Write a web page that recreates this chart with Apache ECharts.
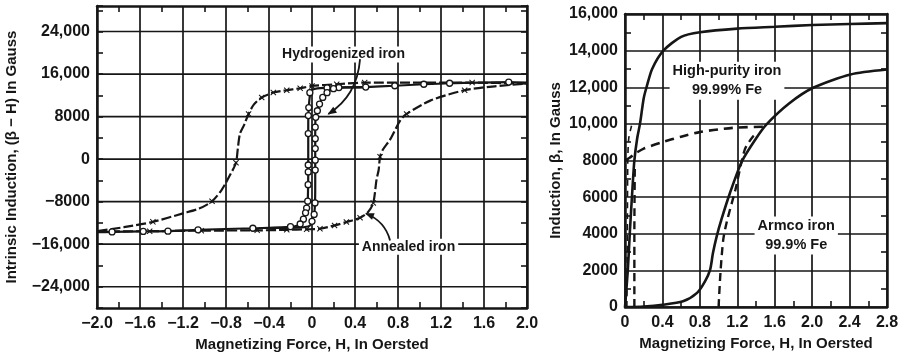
<!DOCTYPE html>
<html><head><meta charset="utf-8">
<script src="https://cdn.jsdelivr.net/npm/echarts@6/dist/echarts.min.js"></script>
<style>html,body{margin:0;padding:0;background:#fff}#c{width:906px;height:355px}</style>
</head><body><div id="c"></div>
<script>
// ---------- LEFT CHART DATA: [H (oersted), B-H (gauss)] ----------
const hydroDown = [[2.0,14400],[1.83,14500],[1.28,14270],[1.04,14080],[0.77,13800],[0.5,13550],[0.25,13450],[0.14,13400],[0.05,13300],[0.0,13000],[-0.015,12500],[-0.025,11000],[-0.03,9700],[-0.034,8200],[-0.035,4800],[-0.035,-1100],[-0.035,-2400],[-0.036,-4800],[-0.04,-7900],[-0.05,-9200],[-0.06,-10100],[-0.08,-11300],[-0.11,-12200],[-0.16,-12650],[-0.28,-12850],[-0.55,-13000],[-1.06,-13300],[-1.34,-13550],[-1.57,-13600],[-1.86,-13700],[-2.0,-13750]];
const hydroUp = [[-0.4,-12950],[-0.1,-12850],[-0.02,-12500],[0.0,-11700],[0.02,-10400],[0.028,-8240],[0.03,-4800],[0.03,-2050],[0.03,2000],[0.03,6000],[0.035,7870],[0.05,9100],[0.07,10360],[0.1,11600],[0.14,12500],[0.2,13250],[0.3,13500],[0.5,13550]];
const hydroMarks = [[1.83,14500],[1.28,14270],[1.04,14080],[0.77,13800],[0.5,13550],[0.25,13450],[0.14,13400],
  [-0.02,12500],[-0.03,9700],[-0.034,8200],[-0.035,4800],[-0.035,-1100],[-0.035,-2400],[-0.036,-4800],[-0.04,-7900],[-0.05,-9200],[-0.06,-10100],[-0.08,-11300],[-0.11,-12200],[-0.2,-12700],[-0.55,-13000],[-1.06,-13300],[-1.34,-13550],[-1.57,-13600],[-1.86,-13700],
  [0.0,-11700],[0.02,-10400],[0.028,-8240],[0.03,-2050],[0.03,-190],[0.03,1990],[0.03,3850],[0.03,6010],[0.035,7870],[0.05,9100],[0.07,10360],[0.1,11600],[0.14,12500],[0.2,13250]];
const annealedDown = [[2.0,14200],[1.49,14390],[0.49,14390],[0.23,14080],[0.0,13770],[-0.11,13330],[-0.235,12960],[-0.36,12530],[-0.468,11590],[-0.54,10300],[-0.59,8500],[-0.63,6500],[-0.67,4780],[-0.69,2000],[-0.707,-680],[-0.76,-2900],[-0.84,-5770],[-0.93,-7940],[-1.05,-9300],[-1.2,-10200],[-1.48,-11800],[-1.75,-12800],[-2.0,-13550]];
const annealedUp = [[-2.0,-13600],[-1.51,-13550],[-1.03,-13450],[-0.51,-13400],[-0.235,-13300],[-0.05,-13200],[0.074,-13090],[0.21,-12470],[0.32,-11840],[0.447,-11040],[0.52,-10000],[0.57,-8250],[0.6,-3900],[0.62,-2050],[0.633,430],[0.66,1800],[0.73,3800],[0.82,7250],[0.88,8500],[1.1,11000],[1.42,12960],[1.7,13700],[2.0,14200]];
const annealedMarks = [[1.49,14390],[0.49,14390],[0.23,14080],[0.0,13770],[-0.11,13330],[-0.235,12960],[-0.36,12530],[-0.468,11590],[-0.59,8500],[-0.707,-680],[-0.93,-7940],[-1.48,-11800],
  [-1.51,-13550],[-1.03,-13450],[-0.51,-13400],[-0.235,-13300],[-0.05,-13200],[0.074,-13090],[0.21,-12470],[0.32,-11840],[0.447,-11040],[0.57,-8250],[0.633,430],[0.88,8500],[1.42,12960]];
const leftGridB = [-24000,-16000,-8000,0,8000,16000,24000];
const leftRangeH = [-2.0, 2.0];

// ---------- RIGHT CHART DATA: [H (oersted), B (gauss)] ----------
const pureSolid = [[0.0,0],[0.03,2000],[0.053,4200],[0.08,6500],[0.1,8000],[0.13,9200],[0.16,10000],[0.2,11400],[0.23,12000],[0.29,13000],[0.41,14000],[0.6,14750],[0.8,15000],[1.2,15200],[1.6,15300],[2.0,15400],[2.4,15450],[2.8,15500]];
const pureDashVert = [[0.1,0],[0.1,4000],[0.105,7800]];
const pureDashCurve = [[0.0,8000],[0.05,8150],[0.1,8350],[0.2,8650],[0.4,9000],[0.6,9300],[0.8,9550],[1.0,9700],[1.2,9800],[1.5,9850]];
const pureDashEdge = [[0.02,0],[0.025,4000],[0.03,8000],[0.04,9200],[0.07,9900]];
const armcoSolid = [[0.0,0],[0.2,30],[0.4,120],[0.62,310],[0.77,770],[0.855,1400],[0.91,2040],[0.94,2950],[0.98,3860],[1.03,4770],[1.12,6200],[1.25,7960],[1.4,9200],[1.51,9960],[1.75,11100],[2.01,11970],[2.41,12700],[2.8,12970]];
const armcoDash = [[1.0,0],[1.02,1860],[1.05,3680],[1.09,4700],[1.18,6410],[1.28,8600],[1.37,9320],[1.42,9500]];

// ---------- ANNOTATIONS (data coordinates) ----------
const leftNotes = [{text:'Hydrogenized iron', at:[0.293,19700]},{text:'Annealed iron', at:[0.898,-16500]}];
const leftArrows = [{from:[0.447,18800], ctrl:[0.42,11900], to:[0.152,8500]},{from:[0.726,-15300], ctrl:[0.68,-11700], to:[0.502,-10230]}];
const rightNotes = [{text:'High-purity iron\n99.99% Fe', at:[1.09,12360]},{text:'Armco iron\n99.9% Fe', at:[1.83,3900]}];

const INK = '#161616';
const FONT = '"Liberation Sans", Arial, sans-serif';

function fmtB(v){
  if (Math.abs(v) < 1e-9) return '0';
  const a = Math.abs(Math.round(v));
  const s = a >= 10000 ? Math.floor(a/1000) + ',' + String(a%1000).padStart(3,'0') : String(a);
  return (v < 0 ? '\u2212' : '') + s;
}
function fmtH(v){
  const r = Math.round(v*10)/10;
  if (Math.abs(r) < 1e-9) return '0';
  return (r < 0 ? '\u2212' : '') + Math.abs(r).toFixed(1);
}
const labelStyle = {color:INK, fontFamily:FONT, fontWeight:'bold', fontSize:16};
const nameStyle = {color:INK, fontFamily:FONT, fontWeight:'bold', fontSize:15};

function xAx(grid, min, max, pos, withLabels, name){
  return {
    type:'value', gridIndex:grid, min:min, max:max, interval:0.4, position:pos,
    axisLine:{show:true, onZero:false, lineStyle:{color:INK, width:2.5}},
    axisTick:{show:false, inside:true},
    minorTick:{show:true, splitNumber:2, length:6, lineStyle:{color:INK, width:1.6}},
    splitLine:{show:pos==='bottom', lineStyle:{color:INK, width:1.7}},
    axisLabel:Object.assign({show:withLabels, formatter:fmtH, margin:8}, labelStyle),
    name:name || '', nameLocation:'middle', nameGap:27, nameTextStyle:nameStyle
  };
}
function yAx(grid, min, max, interval, pos, withLabels, name, gap, split, minor){
  return {
    type:'value', gridIndex:grid, min:min, max:max, interval:interval, position:pos,
    axisLine:{show:true, onZero:false, lineStyle:{color:INK, width:2.5}},
    axisTick:{show:!minor, inside:true, length:6, lineStyle:{color:INK, width:1.6}},
    minorTick:{show:!!minor, splitNumber:2, length:6, lineStyle:{color:INK, width:1.6}},
    splitLine:{show:!!split, lineStyle:{color:INK, width:1.7}},
    axisLabel:Object.assign({show:withLabels, margin:7, formatter:function(v){
      if (!minor && Math.round(v) % 8000 !== 0) return '';
      return fmtB(v);
    }}, labelStyle),
    name:name || '', nameLocation:'middle', nameGap:gap || 0, nameRotate:90, nameTextStyle:nameStyle
  };
}
function line(data, xi, yi, type, width, z){
  return {type:'line', data:data, xAxisIndex:xi, yAxisIndex:yi, symbol:'none', smooth:0.25, silent:true,
    lineStyle:{color:INK, width:width || 2.2, type:type || 'solid'}, z:z || 3, animation:false};
}
function marks(data, symbol, size){
  return {type:'scatter', data:data, xAxisIndex:0, yAxisIndex:0, symbol:symbol, symbolSize:size, silent:true,
    itemStyle:{color: symbol==='circle' ? '#fff' : INK, borderColor:INK, borderWidth: symbol==='circle' ? 1.3 : 0, opacity:1}, z:5, animation:false};
}
const crossPath = 'path://M0,1.2L1.2,0L5,3.8L8.8,0L10,1.2L6.2,5L10,8.8L8.8,10L5,6.2L1.2,10L0,8.8L3.8,5Z';

// horizontal grid lines of the left panel (every 8000 gauss), drawn through the axes
const gridLines = leftGridB.map(v => Object.assign(line([[leftRangeH[0], v],[leftRangeH[1], v]], 0, 0, 'solid', 1.7, 1), {smooth:false}));

const chart = echarts.init(document.getElementById('c'), null, {renderer:'canvas'});
chart.setOption({
  animation:false,
  backgroundColor:'#fff',
  grid:[
    {left:97, top:6, width:430, height:302, containLabel:false, outerBoundsMode:'none'},
    {left:625, top:14, width:262, height:293, containLabel:false, outerBoundsMode:'none'}
  ],
  xAxis:[
    xAx(0, -2, 2, 'bottom', true, 'Magnetizing Force, H, In Oersted'),
    xAx(0, -2, 2, 'top', false),
    xAx(1, 0, 2.8, 'bottom', true, 'Magnetizing Force, H, In Oersted'),
    xAx(1, 0, 2.8, 'top', false)
  ],
  yAxis:[
    yAx(0, -28000, 28800, 4000, 'left', true, 'Intrinsic Induction, (\u03B2 \u2212 H) In Gauss', 78, false, false),
    yAx(0, -28000, 28800, 4000, 'right', false, '', 0, false, false),
    yAx(1, 0, 16000, 2000, 'left', true, 'Induction, \u03B2, In Gauss', 62, true, true),
    yAx(1, 0, 16000, 2000, 'right', false, '', 0, false, true)
  ],
  series:gridLines.concat([
    line(hydroDown, 0, 0, 'solid', 2.2),
    line(hydroUp, 0, 0, 'solid', 2.2),
    line(annealedDown, 0, 0, [10,3], 2.2),
    line(annealedUp, 0, 0, [10,3], 2.2),
    marks(annealedMarks, crossPath, 6),
    marks(hydroMarks, 'circle', 6),
    line(pureSolid, 2, 2, 'solid', 2.6),
    line(pureDashVert, 2, 2, [8,5], 2.4),
    line(pureDashCurve, 2, 2, [9,6], 2.6),
    line(pureDashEdge, 2, 2, [6,5], 1.6),
    line(armcoSolid, 2, 2, 'solid', 2.6),
    line(armcoDash, 2, 2, [8,5], 2.4)
  ])
});

// annotations placed through the axes' own scales
const g = [];
function px(grid, p){ return chart.convertToPixel({gridIndex:grid}, p); }
leftNotes.forEach(n => {
  const p = px(0, n.at);
  g.push({type:'text', z:100, x:p[0], y:p[1], style:{text:n.text, fill:INK, font:'bold 14px ' + FONT,
    align:'center', verticalAlign:'middle', backgroundColor:'#fff', padding:[1,3]}});
});
rightNotes.forEach(n => {
  const p = px(1, n.at);
  g.push({type:'text', z:100, x:p[0], y:p[1], style:{text:n.text, fill:INK, font:'bold 14.5px ' + FONT,
    align:'center', verticalAlign:'middle', lineHeight:19, backgroundColor:'#fff', padding:[0,3]}});
});
leftArrows.forEach(a => {
  const s = px(0, a.from), c = px(0, a.ctrl), e = px(0, a.to);
  g.push({type:'bezierCurve', z:100, shape:{x1:s[0], y1:s[1], x2:e[0], y2:e[1], cpx1:c[0], cpy1:c[1]},
    style:{stroke:INK, lineWidth:1.8, fill:null}});
  const dx = e[0]-c[0], dy = e[1]-c[1], L = Math.hypot(dx, dy), ux = dx/L, uy = dy/L;
  const back = 8, half = 3.5;
  const bx = e[0]-ux*back, by = e[1]-uy*back;
  g.push({type:'polygon', z:101, shape:{points:[[e[0]+ux*1,e[1]+uy*1],[bx-uy*half, by+ux*half],[bx+uy*half, by-ux*half]]},
    style:{fill:INK}});
});
chart.setOption({graphic:g});
</script></body></html>
